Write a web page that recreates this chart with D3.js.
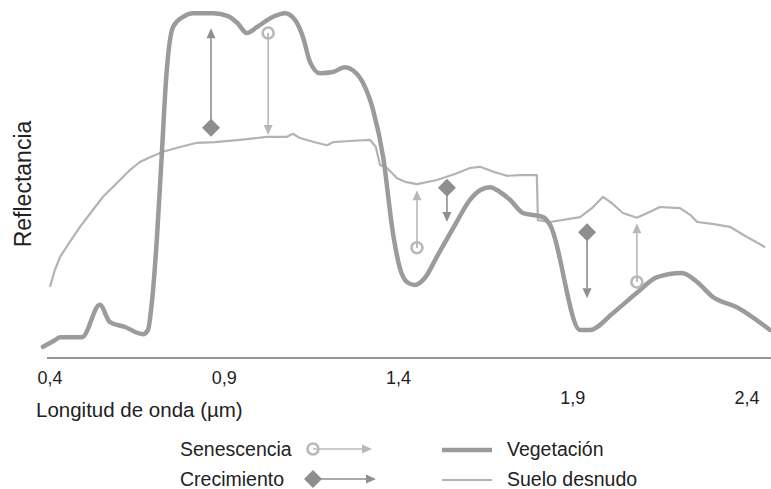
<!DOCTYPE html>
<html>
<head>
<meta charset="utf-8">
<script src="https://cdn.jsdelivr.net/npm/d3@7"></script>
<style>
  html, body { margin: 0; padding: 0; background: #fff; }
  svg { display: block; font-family: "Liberation Sans", Arial, sans-serif; }
</style>
</head>
<body>
<svg id="chart" width="771" height="489"></svg>
<script>
const vegWave = [0.380, 0.414, 0.429, 0.492, 0.543, 0.572, 0.615, 0.667, 0.681, 0.693, 0.707, 0.721, 0.733,
  0.753, 0.782, 0.810, 0.868, 0.911, 0.937, 0.965, 0.994, 1.040, 1.074, 1.103, 1.126, 1.146, 1.175, 1.212,
  1.246, 1.269, 1.298, 1.327, 1.356, 1.384, 1.404, 1.424, 1.447, 1.476, 1.510, 1.562, 1.605, 1.634, 1.663,
  1.691, 1.720, 1.757, 1.815, 1.835, 1.921, 1.949, 2.015, 2.084, 2.142, 2.213, 2.257, 2.302, 2.371, 2.466];
const vegRefl = [1.7, 2.8, 3.3, 3.3, 8.7, 5.8, 5.0, 3.8, 4.5, 9.5, 20, 34, 46.2,
  55, 56.7, 57.3, 57.3, 56.8, 55.7, 54, 55, 56.7, 57.3, 56.2, 53.3, 49.2, 47.3, 47.5,
  48.3, 47.8, 45.7, 41.2, 33.3, 20.7, 14.8, 12.5, 12, 13.2, 16.7, 22, 26.2, 27.8, 28.3,
  27.5, 26.2, 24, 23.3, 22, 4.5, 4.5, 7.3, 10.7, 13.3, 14, 12.5, 10, 8.3, 4.5];

const soilWave = [0.400, 0.414, 0.429, 0.457, 0.486, 0.523, 0.552, 0.587, 0.630, 0.658, 0.687, 0.724, 0.773,
  0.822, 0.873, 0.945, 1.023, 1.080, 1.097, 1.117, 1.160, 1.195, 1.212, 1.261, 1.318, 1.335, 1.347, 1.367,
  1.396, 1.419, 1.453, 1.510, 1.562, 1.605, 1.634, 1.677, 1.711, 1.749, 1.797, 1.800, 1.835, 1.921, 1.955,
  1.987, 2.015, 2.044, 2.084, 2.122, 2.150, 2.208, 2.237, 2.257, 2.300, 2.351, 2.400, 2.452];
const soilRefl = [11.7, 14.5, 16.7, 19.2, 21.7, 24.5, 26.7, 28.7, 31.2, 32.5, 33.3, 34.2, 35,
  35.7, 35.8, 36.2, 36.7, 36.7, 37.2, 36.5, 35.8, 35.3, 35.8, 36, 36.2, 35, 32, 31.5,
  29.8, 29.2, 28.8, 29.5, 30.5, 31.5, 31.7, 30.8, 30.2, 30.3, 30.3, 22.8, 22.5, 23.3, 24.8,
  26.7, 25.5, 24, 23.2, 24.2, 25, 24.8, 23.7, 22.5, 22.2, 21.7, 20, 18.3];

// flechas: tipo, longitud de onda, reflectancia de origen y de destino
const arrowKind = ['crec', 'sen', 'sen', 'crec', 'crec', 'sen'];
const arrowWave = [0.862, 1.026, 1.453, 1.539, 1.941, 2.084];
const arrowFrom = [38.2, 54.0, 18.2, 28.2, 20.8, 12.5];
const arrowTo   = [54.8, 37.0, 27.8, 22.5, 9.8, 22.3];

const tickValues = [0.4, 0.9, 1.4, 1.9, 2.4];
const tickLabels = ['0,4', '0,9', '1,4', '1,9', '2,4'];

const legendSymbols = ['Senescencia', 'Crecimiento'];
const legendLines = ['Vegetación', 'Suelo desnudo'];

const vegColor = '#9b9b9b', soilColor = '#b3b3b3';
const crecColor = '#8e8e8e', senColor = '#b8b8b8';

const svg = d3.select('#chart');

const x = d3.scaleLinear().domain([0.4, 2.4]).range([50, 747]);
const y = d3.scaleLinear().domain([0, 58]).range([357, 9]);

// eje x: solo la línea base y etiquetas escalonadas
svg.append('line')
  .attr('x1', 47).attr('x2', 771)
  .attr('y1', 358).attr('y2', 358)
  .attr('stroke', '#707070').attr('stroke-width', 1.5);

svg.append('g')
  .selectAll('text')
  .data(tickValues)
  .join('text')
  .attr('x', d => x(d))
  .attr('y', (d, i) => i < 3 ? 384 : 404)
  .attr('text-anchor', 'middle')
  .attr('font-size', 18)
  .attr('fill', '#222')
  .text((d, i) => tickLabels[i]);

svg.append('text')
  .attr('x', 36).attr('y', 417)
  .attr('font-size', 20.5)
  .attr('fill', '#222')
  .text('Longitud de onda (µm)');

svg.append('text')
  .attr('transform', 'translate(31,184) rotate(-90)')
  .attr('text-anchor', 'middle')
  .attr('font-size', 23)
  .attr('fill', '#222')
  .text('Reflectancia');

// curvas
const soil = soilWave.map((w, i) => [w, soilRefl[i]]);
const veg = vegWave.map((w, i) => [w, vegRefl[i]]);

svg.append('path')
  .datum(soil)
  .attr('fill', 'none')
  .attr('stroke', soilColor)
  .attr('stroke-width', 2.2)
  .attr('stroke-linejoin', 'round')
  .attr('d', d3.line().x(d => x(d[0])).y(d => y(d[1])));

svg.append('path')
  .datum(veg)
  .attr('fill', 'none')
  .attr('stroke', vegColor)
  .attr('stroke-width', 4.5)
  .attr('stroke-linejoin', 'round')
  .attr('stroke-linecap', 'round')
  .attr('d', d3.line().curve(d3.curveMonotoneX).x(d => x(d[0])).y(d => y(d[1])));

// símbolos
function diamond(g, cx, cy, color) {
  g.append('path')
    .attr('d', `M${cx},${cy - 9}L${cx + 9},${cy}L${cx},${cy + 9}L${cx - 9},${cy}Z`)
    .attr('fill', color);
}
function ring(g, cx, cy, color) {
  g.append('circle')
    .attr('cx', cx).attr('cy', cy).attr('r', 5.5)
    .attr('fill', '#fff')
    .attr('stroke', color).attr('stroke-width', 2.6);
}
function arrow(g, x1, y1, x2, y2, color) {
  const a = Math.atan2(y2 - y1, x2 - x1);
  const len = 10, half = 4.5;
  const bx = x2 - len * Math.cos(a), by = y2 - len * Math.sin(a);
  g.append('line')
    .attr('x1', x1).attr('y1', y1).attr('x2', bx).attr('y2', by)
    .attr('stroke', color).attr('stroke-width', 1.6);
  g.append('path')
    .attr('d', `M${x2},${y2}L${bx - half * Math.sin(a)},${by + half * Math.cos(a)}L${bx + half * Math.sin(a)},${by - half * Math.cos(a)}Z`)
    .attr('fill', color);
}

const arrows = svg.append('g');
arrowWave.forEach((w, i) => {
  const cx = x(w), y1 = y(arrowFrom[i]), y2 = y(arrowTo[i]);
  const color = arrowKind[i] === 'crec' ? crecColor : senColor;
  if (arrowKind[i] === 'sen') ring(arrows, cx, y1, color);
  arrow(arrows, cx, y1, cx, y2, color);
  if (arrowKind[i] === 'crec') diamond(arrows, cx, y1, color);
  else arrows.append('line')
    .attr('x1', cx).attr('x2', cx).attr('y1', y1).attr('y2', y1 + (y2 > y1 ? 5 : -5))
    .attr('stroke', color).attr('stroke-width', 1.6);
});

// leyenda
const legend = svg.append('g');
const rowY = [449, 479];
legendSymbols.forEach((name, i) => {
  legend.append('text')
    .attr('x', 180).attr('y', rowY[i] + 7)
    .attr('font-size', 19.5).attr('fill', '#222')
    .text(name);
  const color = i === 0 ? senColor : crecColor;
  if (i === 0) {
    ring(legend, 313, rowY[i], color);
    arrow(legend, 313, rowY[i], 372, rowY[i], color);
  } else {
    arrow(legend, 313, rowY[i], 376, rowY[i], color);
    diamond(legend, 313, rowY[i], color);
  }
});
legendLines.forEach((name, i) => {
  legend.append('line')
    .attr('x1', 442).attr('x2', 492)
    .attr('y1', rowY[i] + 1).attr('y2', rowY[i] + 1)
    .attr('stroke', i === 0 ? vegColor : soilColor)
    .attr('stroke-width', i === 0 ? 4.5 : 2);
  legend.append('text')
    .attr('x', 507).attr('y', rowY[i] + 7)
    .attr('font-size', 19.5).attr('fill', '#222')
    .text(name);
});
</script>
</body>
</html>
